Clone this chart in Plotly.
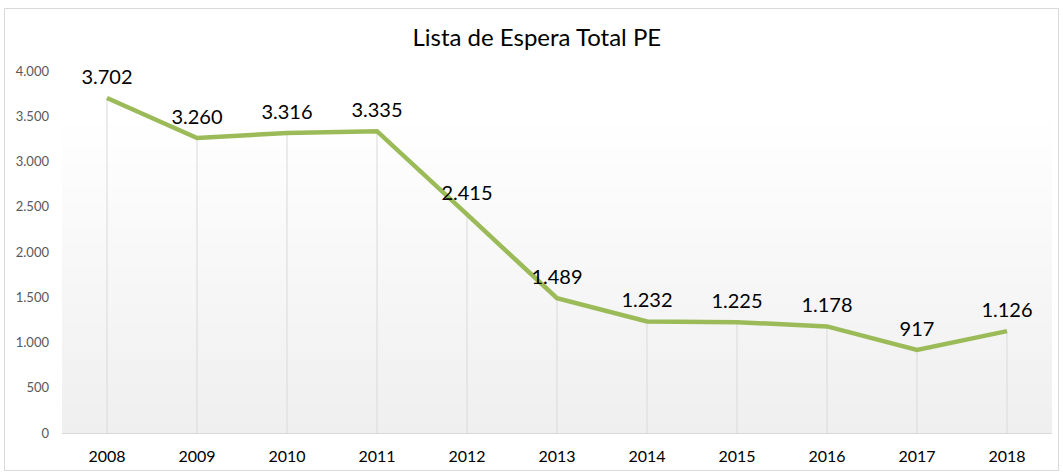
import plotly.graph_objects as go

years = ["2008", "2009", "2010", "2011", "2012", "2013", "2014", "2015", "2016", "2017", "2018"]
values = [3702, 3260, 3316, 3335, 2415, 1489, 1232, 1225, 1178, 917, 1126]
y_ticks = [0, 500, 1000, 1500, 2000, 2500, 3000, 3500, 4000]

W, H = 1063, 472
ML, MR, MT, MB = 62, 11, 71, 39
PW, PH = W - ML - MR, H - MT - MB

def px(x):
    return (x - ML) / PW

def py(y):
    return (H - MB - y) / PH

fig = go.Figure()

# drop lines
dx, dy = [], []
for c, v in zip(years, values):
    dx += [c, c, None]
    dy += [0, v, None]
fig.add_trace(go.Scatter(x=dx, y=dy, mode="lines", line=dict(color="#d9d9d9", width=1),
                         hoverinfo="skip", showlegend=False))

fig.add_trace(go.Scatter(
    x=years, y=values, mode="lines+markers+text",
    line=dict(color="#9bbb59", width=4.5),
    marker=dict(size=13, color="rgba(0,0,0,0)", line=dict(width=0)),
    texttemplate="%{y:,}", textposition="top center",
    textfont=dict(family="Lato", size=20, color="#000000"),
    cliponaxis=False,
    showlegend=False,
))

shapes = []
# gradient background in plot area
N = 40
top_frac = 0.88
for i in range(N):
    f0 = i / N * top_frac
    f1 = (i + 1) / N * top_frac + 0.002
    t = 1 - (i + 0.5) / N
    g = int(round(255 - 16 * t))
    shapes.append(dict(type="rect", xref="paper", yref="paper", x0=0, x1=1, y0=f0, y1=f1,
                       fillcolor=f"rgb({g},{g},{g})", line=dict(width=0), layer="below"))
# chart border
shapes.append(dict(type="rect", xref="paper", yref="paper",
                   x0=px(4.5), x1=px(1058.5), y0=py(470.5), y1=py(8.5),
                   line=dict(color="#d9d9d9", width=1), fillcolor="rgba(0,0,0,0)", layer="below"))

fig.update_layout(
    width=W, height=H,
    margin=dict(l=ML, r=MR, t=MT, b=MB, autoexpand=False),
    paper_bgcolor="white", plot_bgcolor="rgba(0,0,0,0)",
    separators=",.",
    title=dict(text="Lista de Espera Total PE", x=0.505, xanchor="center", y=1 - 38 / H, yanchor="middle",
               font=dict(family="Lato", size=24, color="#000000")),
    shapes=shapes,
    font=dict(family="Lato"),
)
fig.update_xaxes(type="category", showgrid=False, showline=True, linecolor="#d9d9d9", linewidth=1,
                 ticks="", tickfont=dict(family="Lato", size=16, color="#000000"), range=[-0.5, 10.5],
                 ticklabelstandoff=9, automargin=False)
fig.update_yaxes(range=[0, 4000], tickvals=y_ticks, tickformat=",d", showgrid=False, zeroline=False,
                 showline=False, ticks="", tickfont=dict(family="Lato", size=13, color="#595959"),
                 ticklabelstandoff=12, automargin=False)

fig.write_html("out.html", config={"displayModeBar": False},
               post_script="document.body.style.margin='0';document.body.style.padding='0';")
